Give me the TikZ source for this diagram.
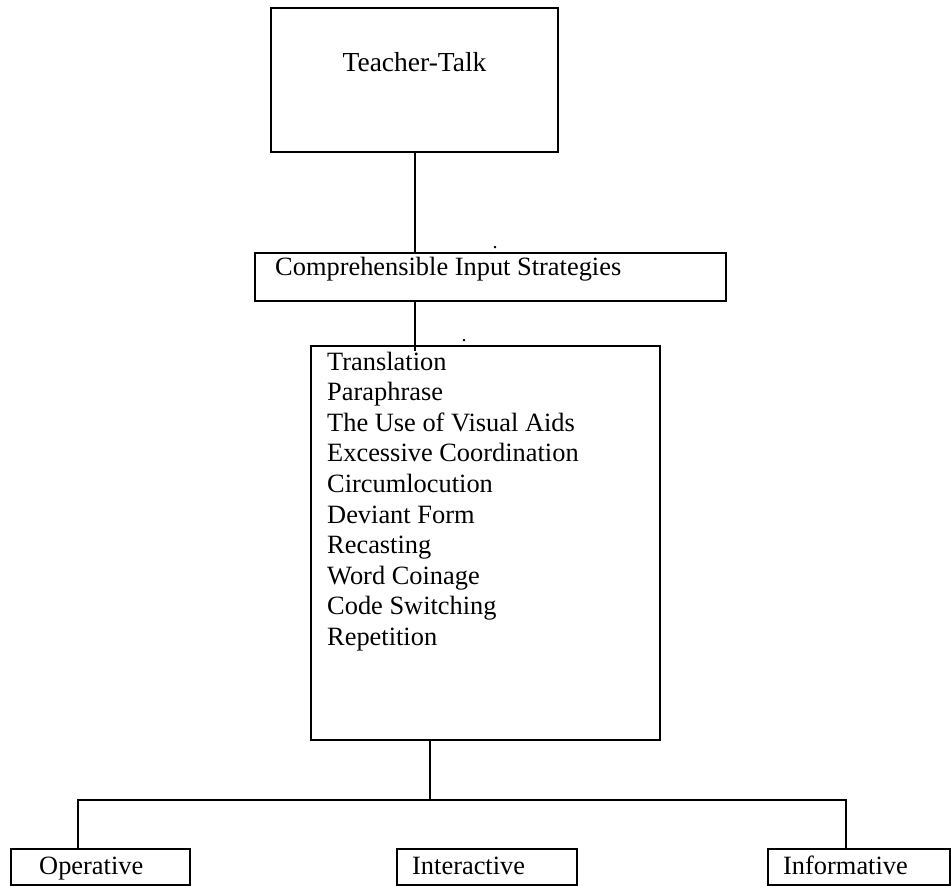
\documentclass[tikz,border=0pt]{standalone}
\usepackage{fontspec}
\setmainfont{Liberation Serif}
\begin{document}
\begin{tikzpicture}[x=1pt,y=-1pt,
  box/.style={draw=black, line width=2pt, inner sep=0pt, rectangle},
  link/.style={draw=black, line width=2pt},
  lbl/.style={inner sep=0pt, font=\fontsize{26.4}{30.6}\selectfont},
  speck/.style={inner sep=0pt, font=\fontsize{20}{20}\selectfont}]
\useasboundingbox (0,0) rectangle (951,886);

% top box
\node[box, minimum width=287pt, minimum height=144pt] (talk) at (414.5,79.7) {};
\node[lbl, font=\fontsize{27.5}{30}\selectfont, anchor=base] (talkt) at (414.5,71) {Teacher-Talk};

% strategies heading
\node[box, minimum width=471pt, minimum height=48pt] (cis) at (490.5,277) {};
\node[lbl, anchor=base west] (cist) at (275,275) {Comprehensible Input Strategies};

% list of strategies
\node[box, minimum width=349pt, minimum height=394pt] (list) at (485.5,543) {};
\foreach \t [count=\i] in {Translation, Paraphrase, The Use of Visual Aids,
    Excessive Coordination, Circumlocution, Deviant Form, Recasting,
    Word Coinage, Code Switching, Repetition}
  \node[lbl, anchor=base west] (item\i) at (327,{370+30.6*(\i-1)}) {\t};

% stray periods
\node[speck, anchor=base] (d1) at (495,248) {.};
\node[speck, anchor=base] (d2) at (464,341) {.};

% functions
\node[box, minimum width=179pt, minimum height=36pt] (op) at (100.5,867) {};
\node[lbl, anchor=base west] (opt) at (39,874) {Operative};
\node[box, minimum width=180pt, minimum height=36pt] (int) at (487,867) {};
\node[lbl, anchor=base west] (intt) at (412,874) {Interactive};
\node[box, minimum width=182pt, minimum height=36pt] (inf) at (859,867) {};
\node[lbl, anchor=base west] (inft) at (783,874) {Informative};

% connectors
\coordinate (bus) at (430,800);
\coordinate (opj) at (78,800);
\coordinate (infj) at (846,800);
\draw[link] (talk.south) -- (cis.north -| talk.south);
\draw[link] (cis.south -| talk.south) -- ([yshift=-6pt]list.north -| talk.south);
\draw[link] (list.south -| bus) -- (bus);
\draw[link] (op.north -| opj) -- (opj) -- (infj) -- (inf.north -| infj);
\end{tikzpicture}
\end{document}
